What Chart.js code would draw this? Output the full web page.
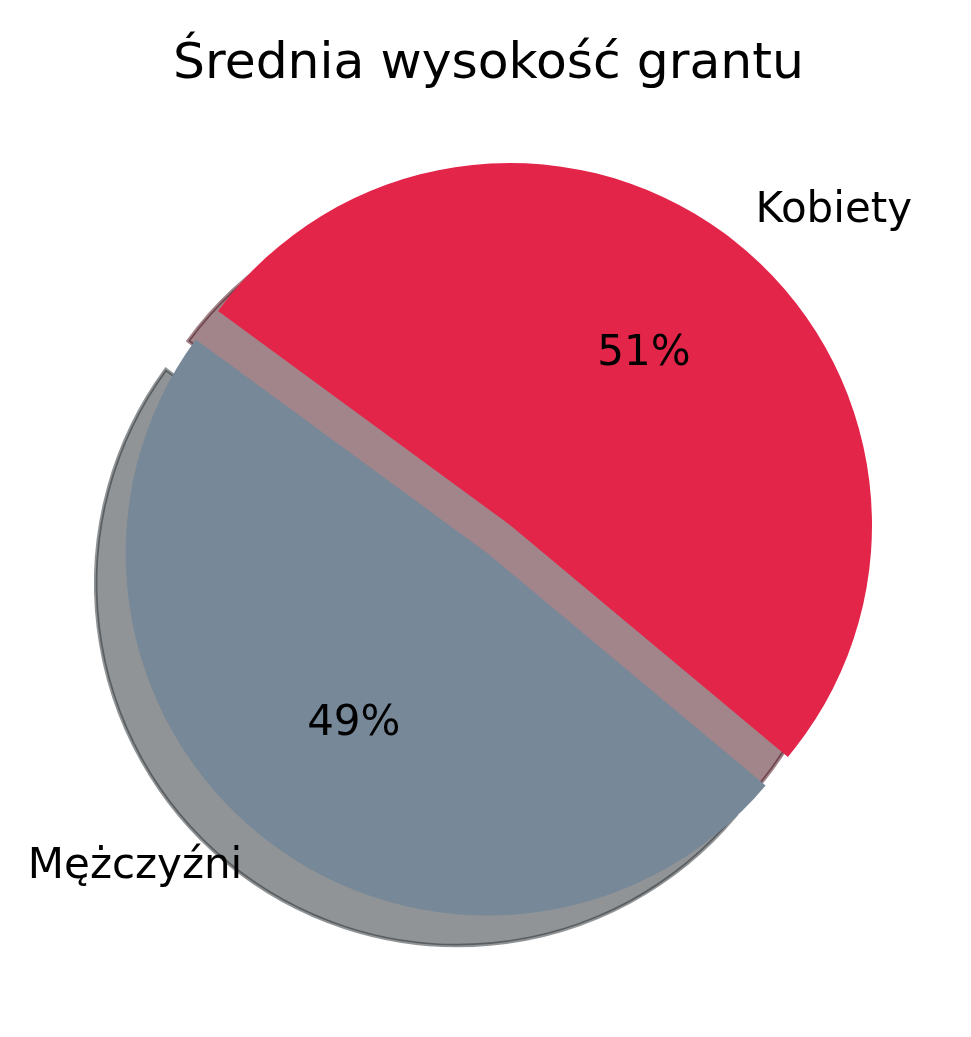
<!DOCTYPE html>
<html>
<head>
<meta charset="utf-8">
<script src="https://cdn.jsdelivr.net/npm/chart.js@4.4.1/dist/chart.umd.min.js"></script>
<style>
  html, body { margin: 0; padding: 0; background: #ffffff; }
  #wrap { width: 971px; height: 1037px; }
</style>
</head>
<body>
<div id="wrap"><canvas id="c" width="971" height="1037"></canvas></div>
<script>
// ---- data ----
const chartTitle = 'Średnia wysokość grantu';
const categories = ['Kobiety', 'Mężczyźni'];
const values = [51, 49];
const colors = ['#E3254A', '#778899'];
const explode = [0, 0.1];

const FONT = '"DejaVu Sans", sans-serif';
const SHADOW_DX = -30, SHADOW_DY = 30;

function hexToRgb(h) {
  const n = parseInt(h.slice(1), 16);
  return [(n >> 16) & 255, (n >> 8) & 255, n & 255];
}

// matplotlib-style explode: move each wedge along its mid-angle
const explodePlugin = {
  id: 'explode',
  afterDatasetUpdate(chart, args) {
    const meta = args.meta;
    meta.data.forEach((el, i) => {
      const half = (el.startAngle + el.endAngle) / 2;
      const d = (explode[i] || 0) * el.outerRadius;
      el.x += Math.cos(half) * d;
      el.y += Math.sin(half) * d;
    });
  }
};

const shadowPlugin = {
  id: 'shadow',
  beforeDatasetsDraw(chart) {
    const ctx = chart.ctx;
    const meta = chart.getDatasetMeta(0);
    meta.data.forEach((el, i) => {
      const R = el.outerRadius;
      const rgb = hexToRgb(colors[i]).map(v => Math.round(v * 0.3));
      const col = `rgba(${rgb[0]},${rgb[1]},${rgb[2]},0.5)`;
      const sx = el.x + SHADOW_DX, sy = el.y + SHADOW_DY;
      ctx.save();
      ctx.beginPath();
      ctx.moveTo(sx, sy);
      ctx.arc(sx, sy, R, el.startAngle, el.endAngle);
      ctx.closePath();
      ctx.fillStyle = col;
      ctx.fill();
      ctx.lineWidth = 3.5;
      ctx.lineJoin = 'miter';
      ctx.strokeStyle = col;
      ctx.stroke();
      ctx.restore();
    });
  }
};

const labelPlugin = {
  id: 'pieLabels',
  afterDatasetsDraw(chart) {
    const ctx = chart.ctx;
    const meta = chart.getDatasetMeta(0);
    const total = values.reduce((a, b) => a + b, 0);
    meta.data.forEach((el, i) => {
      const half = (el.startAngle + el.endAngle) / 2;
      const R = el.outerRadius;
      ctx.save();
      ctx.fillStyle = '#000000';
      ctx.font = '42px ' + FONT;
      ctx.textBaseline = 'middle';
      const lx = el.x + Math.cos(half) * R * 1.1;
      const ly = el.y + Math.sin(half) * R * 1.1;
      ctx.textAlign = Math.cos(half) > 0 ? 'left' : 'right';
      ctx.fillText(categories[i], lx, ly);
      const px = el.x + Math.cos(half) * R * 0.6;
      const py = el.y + Math.sin(half) * R * 0.6;
      ctx.textAlign = 'center';
      ctx.fillText(Math.round(values[i] / total * 100) + '%', px, py);
      ctx.restore();
    });
  },
  afterDraw(chart) {
    const ctx = chart.ctx;
    ctx.save();
    ctx.fillStyle = '#000000';
    ctx.font = '50.4px ' + FONT;
    ctx.textAlign = 'center';
    ctx.textBaseline = 'alphabetic';
    ctx.fillText(chartTitle, 488.5, 78);
    ctx.restore();
  }
};

new Chart(document.getElementById('c'), {
  type: 'pie',
  data: {
    labels: categories,
    datasets: [{
      data: values,
      backgroundColor: colors,
      borderWidth: 0,
      radius: 362
    }]
  },
  options: {
    responsive: false,
    animation: false,
    rotation: 306.25,
    layout: { padding: { left: 49, right: 0, top: 91, bottom: 78 } },
    plugins: {
      legend: { display: false },
      tooltip: { enabled: false },
      title: { display: false }
    }
  },
  plugins: [explodePlugin, shadowPlugin, labelPlugin]
});
</script>
</body>
</html>
